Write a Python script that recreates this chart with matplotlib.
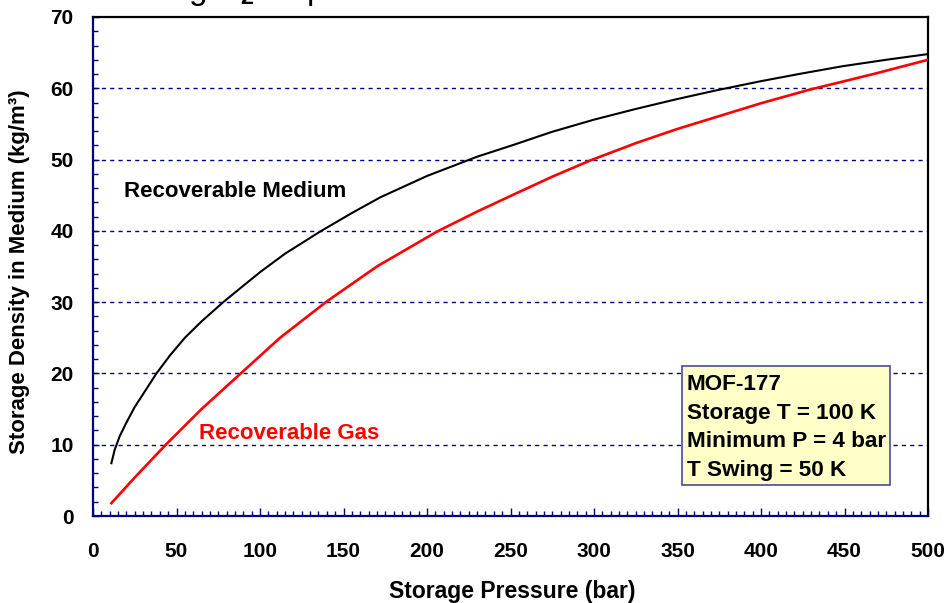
import matplotlib
matplotlib.use("Agg")
import matplotlib.pyplot as plt
from matplotlib.patches import Rectangle
from matplotlib.ticker import MultipleLocator

# recoverable storage density vs. storage pressure (MOF-177 bed)
p_medium = [11, 13, 16, 20, 25, 30, 38, 46, 55, 65, 78, 90, 100, 115, 136, 155, 172,
            200, 230, 251, 275, 300, 325, 350, 373, 400, 425, 449, 475, 500]
rho_medium = [7.4, 9.3, 11.2, 13.1, 15.3, 17.1, 20.0, 22.5, 25.0, 27.3, 30.0, 32.3, 34.2,
              36.8, 39.9, 42.5, 44.7, 47.7, 50.4, 52.0, 53.9, 55.6, 57.1, 58.5, 59.7,
              61.0, 62.1, 63.1, 64.0, 64.8]

p_gas = [11, 25, 44, 65, 88, 112, 140, 170, 206, 230, 251, 275, 298, 325, 350, 375,
         400, 429, 450, 469, 500]
rho_gas = [1.8, 5.4, 10.1, 15.0, 19.9, 25.0, 30.1, 35.0, 39.9, 42.7, 45.0, 47.6, 49.9,
           52.3, 54.3, 56.1, 57.9, 59.8, 61.0, 62.1, 64.0]

case_lines = ["MOF-177", "Storage T = 100 K", "Minimum P = 4 bar", "T Swing = 50 K"]

NAVY = "#000080"

plt.rcParams['font.family'] = ['Liberation Sans', 'DejaVu Sans']
plt.rcParams['font.weight'] = 'bold'
plt.rcParams['mathtext.fontset'] = 'custom'
plt.rcParams['mathtext.rm'] = 'Liberation Sans'

fig = plt.figure(figsize=(9.47, 6.03), dpi=100)
ax = fig.add_axes([93/947, 1 - 516/603, 835/947, 499/603])

ax.plot(p_medium, rho_medium, color='black', lw=1.5, zorder=3)
ax.plot(p_gas, rho_gas, color='#ff0000', lw=1.9, zorder=3)

ax.set_xlim(0, 500)
ax.set_ylim(0, 70)
ax.xaxis.set_major_locator(MultipleLocator(50))
ax.xaxis.set_minor_locator(MultipleLocator(5))
ax.yaxis.set_major_locator(MultipleLocator(10))
ax.yaxis.set_minor_locator(MultipleLocator(2))

for y in range(10, 70, 10):
    ax.axhline(y, color=NAVY, lw=1.0, ls=(0, (3, 3)), zorder=1)

ax.tick_params(axis='x', which='major', direction='in', length=5.5, width=1, color=NAVY,
               pad=19, labelsize=15)
ax.tick_params(axis='x', which='minor', direction='in', length=3.5, width=1, color=NAVY)
ax.tick_params(axis='y', which='major', direction='in', length=4.5, width=1, color=NAVY,
               pad=14, labelsize=15)
ax.tick_params(axis='y', which='minor', direction='in', length=3.5, width=1, color=NAVY)

for side in ['left', 'bottom']:
    ax.spines[side].set_color(NAVY)
    ax.spines[side].set_linewidth(1.6)
for side in ['top', 'right']:
    ax.spines[side].set_color('black')
    ax.spines[side].set_linewidth(1.6)

ax.set_xlabel("Storage Pressure (bar)", fontsize=16.5, fontweight='bold')
ax.xaxis.set_label_coords(0.502, -0.152)
ax.xaxis.label.set_va('center')
ax.set_ylabel("Storage Density in Medium (kg/m³)", fontsize=16, fontweight='bold')
ax.yaxis.set_label_coords(-0.088, 0.49)
ax.yaxis.label.set_va('center')

ax.text(18.4, 45.5, "Recoverable Medium", fontsize=16, fontweight='bold',
        color='black', va='center', ha='left')
ax.text(63.5, 11.6, "Recoverable Gas", fontsize=16, fontweight='bold',
        color='#ff0000', va='center', ha='left')

# case conditions box
ax.add_patch(Rectangle((352.5, 4.35), 124.7, 16.65, facecolor='#ffffc8',
                       edgecolor='#4a4a9a', lw=1.2, zorder=4))
for txt, y in zip(case_lines, [18.4, 14.4, 10.4, 6.45]):
    ax.text(355.5, y, txt, fontsize=16.2, fontweight='bold', va='center',
            ha='left', zorder=5)

# title sits above the canvas, only its descenders show
fig.text(0.1067, 1.0 + 0.5/603, "Storing H$_2$ Capture", fontsize=24, fontweight='normal',
         va='baseline', ha='left')

fig.savefig("out.png", dpi=100)
